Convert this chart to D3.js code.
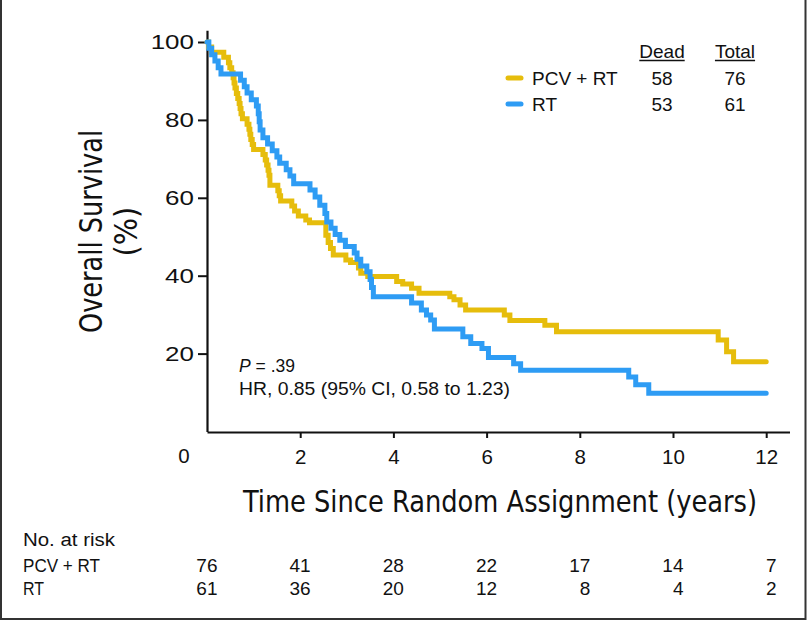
<!DOCTYPE html>
<html><head><meta charset="utf-8">
<script src="https://cdn.jsdelivr.net/npm/d3@7"></script>
<style>
html,body{margin:0;padding:0;background:#fff;}
svg{display:block;}
text{font-family:"Liberation Sans",Arial,Helvetica,sans-serif;fill:#111;}
.narrow{font-family:"Liberation Sans Narrow","Arial Narrow","DejaVu Sans Condensed",sans-serif;}
</style></head><body>
<svg id="chart" width="809" height="621"></svg>
<script>
// ---- data ----
const seriesNames = ["PCV + RT", "RT"];
const seriesDead = [58, 53];
const seriesTotal = [76, 61];
const xTicks = [2, 4, 6, 8, 10, 12];
const yTicks = [20, 40, 60, 80, 100];
const atRiskTimes = [0, 2, 4, 6, 8, 10, 12];
const atRiskPCV = [76, 41, 28, 22, 17, 14, 7];
const atRiskRT = [61, 36, 20, 12, 8, 4, 2];
// Kaplan-Meier steps: [time (years), survival (%)]
const pcvRT = [[0,100],[0.03,98.7],[0.1,97.4],[0.36,96.1],[0.46,94.7],[0.49,93.4],[0.53,92.1],[0.56,90.8],[0.58,89.5],[0.6,88.2],[0.63,86.8],[0.66,85.5],[0.69,84.2],[0.71,82.9],[0.73,81.6],[0.76,80.3],[0.86,78.9],[0.9,77.6],[0.92,76.3],[0.94,75.0],[0.97,73.7],[1.0,72.4],[1.2,71.1],[1.25,69.7],[1.28,68.4],[1.31,67.1],[1.33,65.8],[1.35,63.2],[1.52,61.8],[1.55,60.5],[1.58,59.2],[1.82,57.9],[1.88,56.6],[1.96,55.3],[2.12,54.3],[2.2,53.6],[2.55,50.4],[2.6,48.5],[2.65,47.0],[2.71,45.3],[2.98,44.0],[3.08,43.4],[3.25,42.0],[3.3,40.6],[3.45,39.8],[4.07,38.5],[4.2,37.9],[4.39,36.8],[4.55,35.5],[5.21,34.6],[5.3,33.8],[5.43,32.5],[5.55,31.2],[6.38,29.9],[6.5,28.5],[7.25,27.3],[7.5,25.6],[10.97,23.5],[11.15,20.5],[11.3,17.9],[12.0,17.9]];
const rtOnly = [[0,100],[0.04,98.4],[0.1,96.7],[0.17,95.1],[0.24,93.4],[0.3,91.8],[0.72,90.2],[0.8,88.5],[0.86,86.9],[0.95,85.2],[1.06,83.6],[1.1,81.6],[1.12,79.5],[1.14,77.4],[1.2,75.4],[1.3,73.8],[1.4,72.1],[1.5,70.5],[1.56,68.9],[1.7,67.2],[1.78,65.6],[1.86,63.6],[2.21,62.0],[2.32,60.2],[2.42,58.1],[2.53,56.0],[2.57,53.8],[2.66,52.2],[2.75,50.6],[2.85,49.1],[2.97,47.5],[3.16,45.8],[3.22,44.2],[3.3,42.5],[3.43,41.0],[3.5,39.0],[3.53,37.0],[3.57,34.6],[4.39,33.0],[4.6,31.2],[4.71,29.9],[4.8,28.6],[4.88,26.3],[5.49,24.3],[5.66,22.6],[5.9,21.3],[6.04,19.0],[6.58,17.4],[6.73,15.7],[9.05,14.0],[9.2,12.0],[9.48,9.8],[12.0,9.8]];
const statP = ".39";
const statHR = "HR, 0.85 (95% CI, 0.58 to 1.23)";

// ---- drawing ----
const colors = ["#e6bd0c", "#2e9cf4"];
const svg = d3.select("#chart");
const x = d3.scaleLinear().domain([0, 12.5]).range([207, 789.5]);
const y = d3.scaleLinear().domain([0, 103]).range([431.5, 431.5 - 103 * 3.895]);

// frame
svg.append("path").attr("d", "M1,0V619H805.5V0").attr("fill", "none")
  .attr("stroke", "#333").attr("stroke-width", 2);

// x axis
const gx = svg.append("g").attr("transform", "translate(0,432)")
  .call(d3.axisBottom(x).tickValues(xTicks).tickSize(6).tickPadding(11).tickSizeOuter(0));
gx.selectAll("text").style("font-size", "20.5px").attr("fill", "#111");
svg.append("text").attr("x", x(0) - 23).attr("y", 463).attr("text-anchor", "middle")
  .style("font-size", "20.5px").text("0");

// y axis
const gy = svg.append("g").attr("transform", "translate(207,0)")
  .call(d3.axisLeft(y).tickValues(yTicks).tickSize(9).tickPadding(4).tickSizeOuter(0));
gy.selectAll("text").style("font-size", "20px").attr("fill", "#111")
  .attr("x", 0).attr("transform", "translate(-13,0) scale(1.3,1)");
[gx, gy].forEach(g => {
  g.select(".domain").attr("stroke", "#111").attr("stroke-width", 2.2);
  g.selectAll(".tick line").attr("stroke", "#111").attr("stroke-width", 2);
});

// axis titles
svg.append("text").attr("class", "narrow").attr("x", 500).attr("y", 511.5)
  .attr("text-anchor", "middle").style("font-size", "30px")
  .attr("textLength", 514).attr("lengthAdjust", "spacingAndGlyphs")
  .text("Time Since Random Assignment (years)");
svg.append("text").attr("class", "narrow").attr("transform", "translate(102,231.5) rotate(-90)")
  .attr("text-anchor", "middle").style("font-size", "32px")
  .attr("textLength", 203).attr("lengthAdjust", "spacingAndGlyphs")
  .text("Overall Survival");
svg.append("text").attr("class", "narrow").attr("transform", "translate(137,231.7) rotate(-90)")
  .attr("text-anchor", "middle").style("font-size", "32px").text("(%)");

// curves
const line = d3.line().x(d => x(d[0])).y(d => y(d[1])).curve(d3.curveStepAfter);
[pcvRT, rtOnly].forEach((data, i) => {
  svg.append("path").datum(data).attr("d", line).attr("fill", "none")
    .attr("stroke", colors[i]).attr("stroke-width", 5)
    .attr("stroke-linejoin", "miter").attr("stroke-linecap", "round");
});

// legend
const legendY = [78, 104];
const headers = [["Dead", 662], ["Total", 735]];
headers.forEach(([label, cx]) => {
  const t = svg.append("text").attr("x", cx).attr("y", 58).attr("text-anchor", "middle")
    .style("font-size", "19px").text(label);
  const w = t.node().getComputedTextLength();
  svg.append("line").attr("x1", cx - w / 2).attr("x2", cx + w / 2)
    .attr("y1", 60.5).attr("y2", 60.5).attr("stroke", "#111").attr("stroke-width", 1.5);
});
seriesNames.forEach((name, i) => {
  svg.append("line").attr("x1", 508).attr("x2", 521).attr("y1", legendY[i]).attr("y2", legendY[i])
    .attr("stroke", colors[i]).attr("stroke-width", 5).attr("stroke-linecap", "round");
  svg.append("text").attr("x", 532).attr("y", legendY[i] + 6.5).style("font-size", "19px").text(name);
  svg.append("text").attr("x", 662).attr("y", legendY[i] + 6.5).attr("text-anchor", "middle")
    .style("font-size", "19px").text(seriesDead[i]);
  svg.append("text").attr("x", 735).attr("y", legendY[i] + 6.5).attr("text-anchor", "middle")
    .style("font-size", "19px").text(seriesTotal[i]);
});

// statistics
const pt = svg.append("text").attr("x", 239).attr("y", 371.7).style("font-size", "17.5px");
pt.append("tspan").style("font-style", "italic").text("P");
pt.append("tspan").text(" = " + statP);
svg.append("text").attr("x", 239).attr("y", 395).style("font-size", "17.5px")
  .attr("textLength", 271).attr("lengthAdjust", "spacingAndGlyphs").text(statHR);

// number at risk
svg.append("text").attr("x", 23).attr("y", 546).style("font-size", "18px")
  .attr("textLength", 92).attr("lengthAdjust", "spacingAndGlyphs").text("No. at risk");
const rows = [[seriesNames[0], atRiskPCV, 571.7, 77], [seriesNames[1], atRiskRT, 594.5, 21]];
rows.forEach(([name, vals, by, tl]) => {
  svg.append("text").attr("x", 23).attr("y", by).style("font-size", "19px")
    .attr("textLength", tl).attr("lengthAdjust", "spacingAndGlyphs").text(name);
  svg.selectAll(null).data(vals).enter().append("text")
    .attr("x", (d, j) => x(atRiskTimes[j]) + 10.5).attr("y", by)
    .attr("text-anchor", "end").style("font-size", "19px").text(d => d);
});
</script></body></html>
